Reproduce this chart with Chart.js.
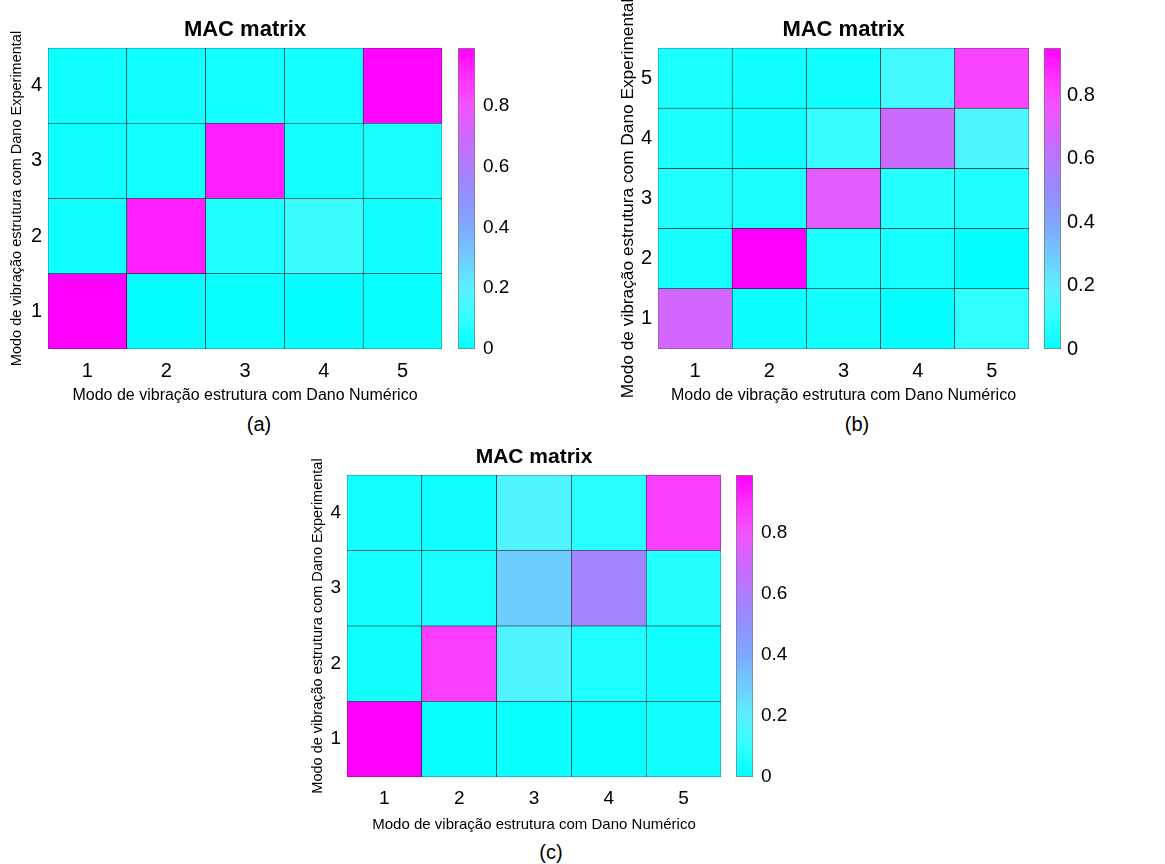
<!DOCTYPE html>
<html>
<head>
<meta charset="utf-8">
<script src="https://cdn.jsdelivr.net/npm/chart.js@4.4.1/dist/chart.umd.min.js"></script>
<style>
  html, body { margin: 0; padding: 0; background: #fff; }
  body { width: 1165px; height: 864px; position: relative; overflow: hidden; }
  canvas { position: absolute; }
  .panel { position: absolute; width: 60px; margin-left: -30px; text-align: center;
           font: 20px 'Liberation Sans', Arial, sans-serif; color: #000; line-height: 24px; }
</style>
</head>
<body>
<canvas id="macA" width="445" height="412" style="left:0;top:0"></canvas>
<canvas id="barA" width="90" height="412" style="left:450px;top:0"></canvas>
<canvas id="macB" width="462" height="412" style="left:570px;top:0"></canvas>
<canvas id="barB" width="129" height="412" style="left:1036px;top:0"></canvas>
<canvas id="macC" width="434" height="410" style="left:290px;top:430px"></canvas>
<canvas id="barC" width="80" height="410" style="left:728px;top:430px"></canvas>
<div class="panel" style="left:259px;top:412px">(a)</div>
<div class="panel" style="left:857px;top:412px">(b)</div>
<div class="panel" style="left:551px;top:840px">(c)</div>
<script>
// Mode numbers along each axis
const numericModes = ['1', '2', '3', '4', '5'];
const expModes4 = [1, 2, 3, 4];
const expModes5 = [1, 2, 3, 4, 5];
const colorbarTicks = [0, 0.2, 0.4, 0.6, 0.8];

// MAC values, one array per experimental mode (bottom row first)
const macA1 = [0.99, 0.01, 0.02, 0.01, 0.02];
const macA2 = [0.03, 0.93, 0.06, 0.12, 0.03];
const macA3 = [0.03, 0.04, 0.93, 0.04, 0.05];
const macA4 = [0.03, 0.03, 0.04, 0.04, 0.98];

const macB1 = [0.68, 0.02, 0.03, 0.01, 0.09];
const macB2 = [0.04, 0.95, 0.05, 0.04, 0.01];
const macB3 = [0.06, 0.05, 0.72, 0.07, 0.06];
const macB4 = [0.05, 0.03, 0.11, 0.66, 0.16];
const macB5 = [0.05, 0.03, 0.03, 0.13, 0.81];

const macC1 = [0.99, 0.02, 0.02, 0.02, 0.03];
const macC2 = [0.03, 0.86, 0.17, 0.06, 0.03];
const macC3 = [0.04, 0.05, 0.30, 0.56, 0.07];
const macC4 = [0.04, 0.03, 0.17, 0.08, 0.86];

const FONT = "'Liberation Sans', Arial, sans-serif";

// Cyan -> blue -> magenta colormap (r, g, b at evenly spaced stops)
const CMAP = [
  [0, 255, 255], [50, 255, 255], [90, 240, 255], [110, 205, 255], [125, 170, 255],
  [145, 145, 255], [170, 125, 255], [205, 105, 255], [240, 85, 255], [255, 50, 255], [255, 0, 255]
];
function cmap(t) {
  t = Math.max(0, Math.min(1, t));
  const p = t * (CMAP.length - 1);
  const i = Math.min(Math.floor(p), CMAP.length - 2);
  const f = p - i;
  const c = CMAP[i].map((v, k) => Math.round(v + (CMAP[i + 1][k] - v) * f));
  return 'rgb(' + c.join(',') + ')';
}

function maxOf(rows) {
  return Math.max(...rows.map(r => Math.max(...r)));
}

function heatmap(id, rows, rowLabels, cfg) {
  const vmax = maxOf(rows);
  const datasets = rows.map((vals, i) => ({
    data: vals.map(() => [rowLabels[i] - 0.5, rowLabels[i] + 0.5]),
    backgroundColor: vals.map(v => cmap(v / vmax)),
    borderColor: '#1a1a1a',
    borderWidth: 0.6,
    borderSkipped: false,
    barPercentage: 1,
    categoryPercentage: 1,
    grouped: false
  }));
  new Chart(document.getElementById(id), {
    type: 'bar',
    data: { labels: numericModes, datasets },
    options: {
      responsive: false,
      animation: false,
      devicePixelRatio: 1,
      layout: { padding: { left: 0, right: 3, top: 0, bottom: 0 } },
      plugins: {
        legend: { display: false },
        tooltip: { enabled: false }
      },
      scales: {
        // top axis only carries the chart title, centred over the cells
        top: {
          type: 'category',
          position: 'top',
          grid: { display: false, drawTicks: false },
          border: { display: false },
          ticks: { display: false },
          title: {
            display: true,
            text: 'MAC matrix',
            color: '#000',
            font: { family: FONT, size: cfg.titleSize, weight: 'bold' },
            padding: { top: cfg.titlePad, bottom: 0 }
          },
          afterFit: s => { s.height = cfg.topHeight; }
        },
        x: {
          type: 'category',
          position: 'bottom',
          grid: { display: false, drawTicks: false },
          border: { display: false },
          ticks: { color: '#000', font: { family: FONT, size: cfg.tickSize }, padding: cfg.xTickPad, maxRotation: 0 },
          title: {
            display: true,
            text: 'Modo de vibração estrutura com Dano Numérico',
            color: '#000',
            font: { family: FONT, size: cfg.xTitleSize },
            padding: { top: 0, bottom: cfg.xTitlePad }
          },
          afterFit: s => { s.height = 63; }
        },
        y: {
          type: 'linear',
          min: rowLabels[0] - 0.5,
          max: rowLabels[rowLabels.length - 1] + 0.5,
          grid: { display: false, drawTicks: false },
          border: { display: false },
          ticks: { color: '#000', font: { family: FONT, size: cfg.tickSize }, padding: 6 },
          afterBuildTicks: s => { s.ticks = rowLabels.map(v => ({ value: v })); },
          title: {
            display: true,
            text: 'Modo de vibração estrutura com Dano Experimental',
            color: '#000',
            font: { family: FONT, size: cfg.yTitleSize },
            padding: { top: cfg.yTitlePad, bottom: 0 }
          },
          afterFit: s => { s.width = cfg.yWidth; }
        }
      }
    }
  });
  return vmax;
}

function colorbar(id, vmax, cfg) {
  new Chart(document.getElementById(id), {
    type: 'bar',
    data: {
      labels: [''],
      datasets: [{
        data: [[0, vmax]],
        backgroundColor: ctx => {
          const area = ctx.chart.chartArea;
          if (!area) return cmap(0.5);
          const g = ctx.chart.ctx.createLinearGradient(0, area.bottom, 0, area.top);
          for (let k = 0; k <= 20; k++) g.addColorStop(k / 20, cmap(k / 20));
          return g;
        },
        borderColor: '#7a7a7a',
        borderWidth: 1,
        borderSkipped: false,
        barPercentage: 1,
        categoryPercentage: 1
      }]
    },
    options: {
      responsive: false,
      animation: false,
      devicePixelRatio: 1,
      layout: { padding: { left: 8, right: 0, top: cfg.top, bottom: cfg.bottom } },
      plugins: { legend: { display: false }, tooltip: { enabled: false } },
      scales: {
        x: { display: false },
        y: {
          position: 'right',
          min: 0,
          max: vmax,
          grid: { display: false, drawTicks: false },
          border: { display: false },
          afterBuildTicks: s => { s.ticks = colorbarTicks.filter(v => v <= vmax).map(v => ({ value: v })); },
          ticks: {
            color: '#000',
            font: { family: FONT, size: cfg.size },
            padding: cfg.pad,
            callback: v => (v === 0 ? '0' : v.toFixed(1))
          },
          afterFit: s => { s.width = cfg.axisWidth; }
        }
      }
    }
  });
}

const maxA = heatmap('macA', [macA1, macA2, macA3, macA4], expModes4, {
  titleSize: 22, titlePad: 16.3, topHeight: 48,
  tickSize: 20, xTickPad: 10, xTitleSize: 16, xTitlePad: 6.4, yTitleSize: 14.5, yTitlePad: 8.3, yWidth: 48
});
colorbar('barA', maxA, { top: 48, bottom: 63, size: 19, pad: 8, axisWidth: 65 });

const maxB = heatmap('macB', [macB1, macB2, macB3, macB4, macB5], expModes5, {
  titleSize: 22, titlePad: 16.3, topHeight: 48,
  tickSize: 20, xTickPad: 10, xTitleSize: 16, xTitlePad: 6.4, yTitleSize: 17.3, yTitlePad: 47.6, yWidth: 88
});
colorbar('barB', maxB, { top: 48, bottom: 63, size: 20, pad: 6, axisWidth: 104 });

const maxC = heatmap('macC', [macC1, macC2, macC3, macC4], expModes4, {
  titleSize: 21, titlePad: 14.4, topHeight: 45,
  tickSize: 19, xTickPad: 10, xTitleSize: 15, xTitlePad: 6, yTitleSize: 14.5, yTitlePad: 19.3, yWidth: 57
});
colorbar('barC', maxC, { top: 45, bottom: 63, size: 19, pad: 8, axisWidth: 55 });
</script>
</body>
</html>
